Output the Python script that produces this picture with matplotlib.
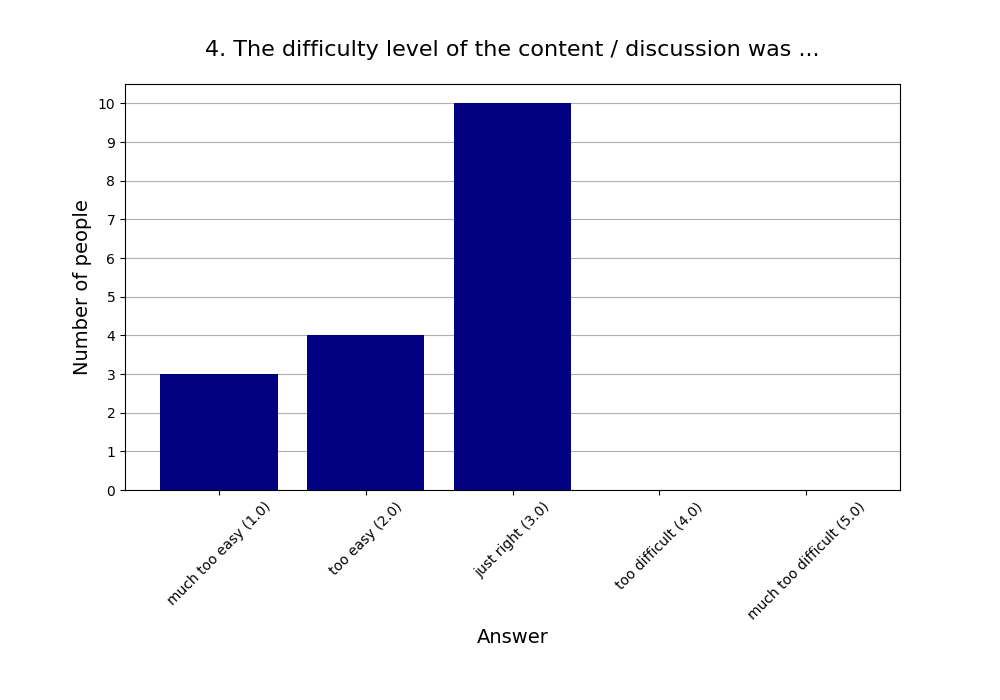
import matplotlib
matplotlib.use("Agg")
import matplotlib.pyplot as plt

categories = ["much too easy (1.0)", "too easy (2.0)", "just right (3.0)",
              "too difficult (4.0)", "much too difficult (5.0)"]
counts = [3, 4, 10, 0, 0]

fig, ax = plt.subplots(figsize=(10, 7), dpi=100)
fig.subplots_adjust(left=0.125, right=0.9, top=0.88, bottom=0.3)
x = list(range(len(categories)))
ax.bar(x, counts, width=0.8, color="navy", zorder=2)
ax.set_xticks(x)
ax.set_xticklabels(categories, rotation=45)
ax.set_yticks(range(0, 11))
ax.set_ylim(0, 10.5)
ax.grid(axis="y", color="#b0b0b0", zorder=0)
ax.set_axisbelow(True)
ax.set_title("4. The difficulty level of the content / discussion was ...", fontsize=16, pad=20)
ax.set_xlabel("Answer", fontsize=14)
ax.set_ylabel("Number of people", fontsize=14)
fig.savefig("out.png")
